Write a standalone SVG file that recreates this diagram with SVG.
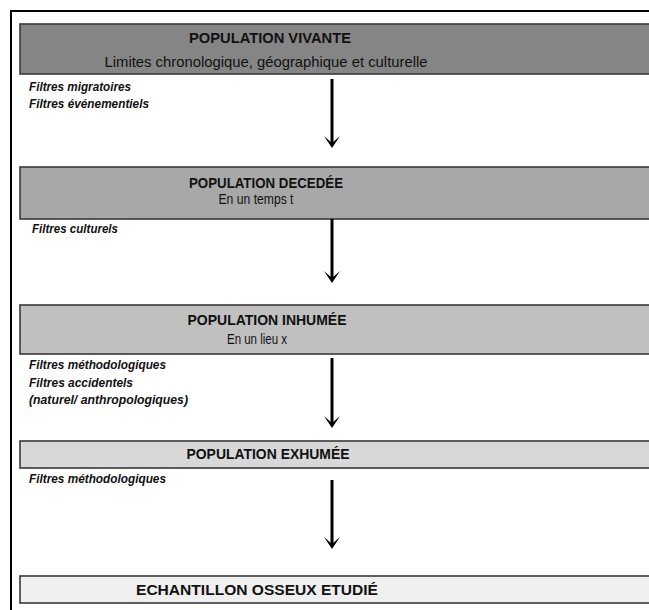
<svg xmlns="http://www.w3.org/2000/svg" width="649" height="610" viewBox="0 0 649 610">
<defs>
<style>
.box{stroke:#3a3a3a;stroke-width:1.6}
.t{font-family:"Liberation Sans",Arial,sans-serif;font-size:14.5px;fill:#111;text-anchor:middle}
.b{font-weight:bold}
.f{font-family:"Liberation Sans",Arial,sans-serif;font-size:12px;font-weight:bold;font-style:italic;fill:#111}
.arr{stroke:#000;stroke-width:3;fill:none}
</style>
<marker id="ad" viewBox="-9 -14 18 15" refX="0" refY="-5" markerWidth="18" markerHeight="15" markerUnits="userSpaceOnUse" orient="0">
<path d="M-8,-12 L0,0 L8,-12 L0,-5 Z" fill="#000"/>
</marker>
</defs>
<rect width="649" height="610" fill="#fff"/>
<path d="M11,620 L11,11 L660,11" fill="none" stroke="#000" stroke-width="2"/>

<g id="vivante">
<rect class="box" x="20" y="24" width="650" height="50" fill="#858585"/>
<text class="t b" x="270" y="43" textLength="162" lengthAdjust="spacingAndGlyphs">POPULATION VIVANTE</text>
<text class="t" x="266" y="67" textLength="323" lengthAdjust="spacingAndGlyphs">Limites chronologique, géographique et culturelle</text>
<text class="f" x="29" y="91" textLength="102" lengthAdjust="spacingAndGlyphs">Filtres migratoires</text>
<text class="f" x="29" y="108" textLength="120" lengthAdjust="spacingAndGlyphs">Filtres événementiels</text>
</g>

<g id="decedee">
<rect class="box" x="20" y="167" width="650" height="52" fill="#a8a8a8"/>
<text class="t b" x="266" y="188" textLength="154" lengthAdjust="spacingAndGlyphs">POPULATION DECEDÉE</text>
<text class="t" x="256" y="204" textLength="75" lengthAdjust="spacingAndGlyphs">En un temps t</text>
<text class="f" x="32" y="233" textLength="86" lengthAdjust="spacingAndGlyphs">Filtres culturels</text>
</g>

<g id="inhumee">
<rect class="box" x="20" y="305" width="650" height="49" fill="#c0c0c0"/>
<text class="t b" x="267" y="325" textLength="159" lengthAdjust="spacingAndGlyphs">POPULATION INHUMÉE</text>
<text class="t" x="257" y="344" textLength="60" lengthAdjust="spacingAndGlyphs">En un lieu x</text>
<text class="f" x="29" y="369" textLength="137" lengthAdjust="spacingAndGlyphs">Filtres méthodologiques</text>
<text class="f" x="29" y="387" textLength="104" lengthAdjust="spacingAndGlyphs">Filtres accidentels</text>
<text class="f" x="29" y="404" textLength="159" lengthAdjust="spacingAndGlyphs">(naturel/ anthropologiques)</text>
</g>

<g id="exhumee">
<rect class="box" x="20" y="441" width="650" height="27" fill="#d8d8d8"/>
<text class="t b" x="268" y="459" textLength="163" lengthAdjust="spacingAndGlyphs">POPULATION EXHUMÉE</text>
<text class="f" x="29" y="483" textLength="137" lengthAdjust="spacingAndGlyphs">Filtres méthodologiques</text>
</g>

<g id="echantillon">
<rect class="box" x="20" y="576" width="650" height="27" fill="#efefef"/>
<text class="t b" x="257" y="595" textLength="242" lengthAdjust="spacingAndGlyphs">ECHANTILLON OSSEUX ETUDIÉ</text>
</g>

<g id="connectors">
<path class="arr" d="M332,79 L332,143" marker-end="url(#ad)"/>
<path class="arr" d="M332,219 L332,278" marker-end="url(#ad)"/>
<path class="arr" d="M332,358 L332,423" marker-end="url(#ad)"/>
<path class="arr" d="M332,480 L332,544" marker-end="url(#ad)"/>
</g>
</svg>
